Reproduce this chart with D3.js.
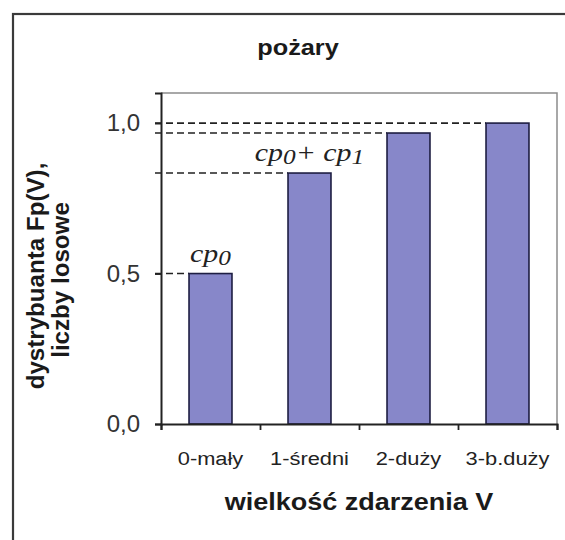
<!DOCTYPE html>
<html>
<head>
<meta charset="utf-8">
<script src="https://cdn.jsdelivr.net/npm/d3@7"></script>
<style>
  html, body { margin: 0; padding: 0; background: #fff; }
  svg { display: block; }
</style>
</head>
<body>
<svg id="chart" width="565" height="540"></svg>
<script>
// ---- data ----
const categories = ["0-mały", "1-średni", "2-duży", "3-b.duży"];
const cumulative = [0.5, 0.834, 0.967, 1.0];
const yTickValues = [0, 0.5, 1.0];
const annotations = [
  { index: 0, parts: [["cp", false], ["0", true]] },
  { index: 1, parts: [["cp", false], ["0", true], ["+ ", false], ["cp", false], ["1", true]] }
];
const titleText = "pożary";
const xTitleText = "wielkość zdarzenia V";
const yTitleLines = ["dystrybuanta Fp(V),", "liczby losowe"];

// ---- layout ----
const svg = d3.select("#chart");
const margin = { left: 161, top: 93 };
const W = 396, H = 331;
const sx = 1.15;
const sans = "'Liberation Sans', Arial, sans-serif";

// outer frame (cropped at right and bottom)
svg.append("rect")
  .attr("x", 13).attr("y", 14).attr("width", 700).attr("height", 700)
  .attr("fill", "none").attr("stroke", "#3a3a3a").attr("stroke-width", 2.2);

const g = svg.append("g").attr("transform", `translate(${margin.left},${margin.top})`);

const x = d3.scaleBand().domain(categories).range([0, W]).paddingInner(0.566).paddingOuter(0.283);
const y = d3.scaleLinear().domain([0, 1.1]).range([H, 0]);
const xb = d3.scaleLinear().domain([0, categories.length]).range([0, W]);

// plot frame (top & right)
g.append("path")
  .attr("d", `M0,0H${W}V${H}`)
  .attr("fill", "none").attr("stroke", "#8c8c8c").attr("stroke-width", 1.5);

// dashed guide lines
g.selectAll("line.guide").data(cumulative).enter().append("line")
  .attr("class", "guide")
  .attr("x1", -6).attr("x2", (d, i) => x(categories[i]))
  .attr("y1", d => y(d)).attr("y2", d => y(d))
  .attr("stroke", "#222").attr("stroke-width", 1.6)
  .attr("stroke-dasharray", "7,4");

// bars
g.selectAll("rect.bar").data(cumulative).enter().append("rect")
  .attr("class", "bar")
  .attr("x", (d, i) => x(categories[i]))
  .attr("width", x.bandwidth())
  .attr("y", d => y(d))
  .attr("height", d => H - y(d))
  .attr("fill", "#8787c9")
  .attr("stroke", "#1e1e42").attr("stroke-width", 1.6);

// y axis
const yAxis = g.append("g")
  .call(d3.axisLeft(y).tickValues(yTickValues).tickSize(6).tickPadding(15)
    .tickFormat(d => d.toFixed(1).replace(".", ",")));
yAxis.select(".domain").attr("stroke", "#222").attr("stroke-width", 2);
yAxis.selectAll(".tick line").attr("stroke", "#222").attr("stroke-width", 1.8);
yAxis.selectAll("text").attr("font-family", sans).attr("font-size", 24).attr("fill", "#333");

// x axis: boundary ticks
const xTicks = g.append("g").attr("transform", `translate(0,${H})`)
  .call(d3.axisBottom(xb).ticks(categories.length).tickSize(6).tickFormat(""));
xTicks.select(".domain").attr("stroke", "#222").attr("stroke-width", 2);
xTicks.selectAll(".tick line").attr("stroke", "#222").attr("stroke-width", 1.8);

// x axis: category labels
const xLabels = g.append("g").attr("transform", `translate(0,${H})`)
  .call(d3.axisBottom(x).tickSize(0).tickPadding(28));
xLabels.select(".domain").remove();
xLabels.selectAll("text")
  .attr("font-family", sans).attr("font-size", 19).attr("fill", "#222")
  .attr("transform", `scale(${sx},1)`);

// annotations
annotations.forEach(a => {
  const cx = x(categories[a.index]) + x.bandwidth() / 2;
  const cy = y(cumulative[a.index]) - 12;
  const t = g.append("text")
    .attr("transform", `translate(${cx},${cy}) scale(${sx},1)`)
    .attr("text-anchor", "middle")
    .attr("font-family", "'Liberation Serif', 'Times New Roman', serif")
    .attr("font-style", "italic")
    .attr("font-size", 26)
    .attr("fill", "#222");
  let shifted = false;
  a.parts.forEach(([s, sub]) => {
    const ts = t.append("tspan").text(s);
    if (sub && !shifted) { ts.attr("dy", 3).attr("font-size", 22); shifted = true; }
    else if (sub) { ts.attr("font-size", 22); }
    else if (!sub && shifted) { ts.attr("dy", -3); shifted = false; }
  });
});

// title
svg.append("text")
  .attr("transform", `translate(298,55) scale(${sx},1)`)
  .attr("text-anchor", "middle")
  .attr("font-family", sans).attr("font-weight", "bold").attr("font-size", 22)
  .attr("fill", "#1a1a1a")
  .text(titleText);

// x title
svg.append("text")
  .attr("transform", `translate(${margin.left + W / 2},510) scale(${sx},1)`)
  .attr("text-anchor", "middle")
  .attr("font-family", sans).attr("font-weight", "bold").attr("font-size", 23.5)
  .attr("fill", "#1a1a1a")
  .text(xTitleText);

// y title (two lines, rotated)
const yTitlePos = [[44, 276], [69, 280]];
yTitleLines.forEach((line, i) => {
  svg.append("text")
    .attr("transform", `translate(${yTitlePos[i][0]},${yTitlePos[i][1]}) rotate(-90) scale(1.05,1)`)
    .attr("text-anchor", "middle")
    .attr("font-family", sans).attr("font-weight", "bold").attr("font-size", 23)
    .attr("fill", "#1a1a1a")
    .text(line);
});
</script>
</body>
</html>
